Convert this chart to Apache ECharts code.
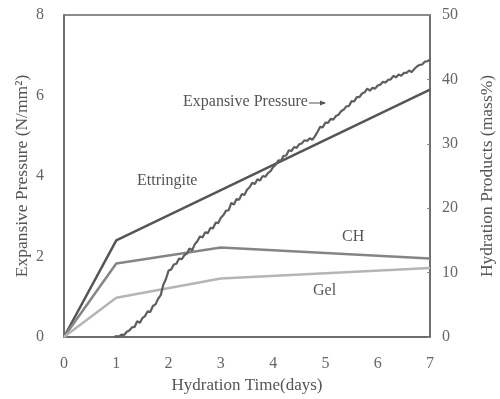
<!DOCTYPE html>
<html><head><meta charset="utf-8">
<script src="https://cdn.jsdelivr.net/npm/echarts@6/dist/echarts.min.js"></script>
<style>html,body{margin:0;padding:0;background:#fff}#c{width:500px;height:399px}</style>
</head><body><div id="c"></div>
<script>
var days = [0, 1, 3, 7];
var ettringite = [0, 15.0, 22.8, 38.4];
var ch = [0, 11.4, 13.9, 12.2];
var gel = [0, 6.1, 9.1, 10.7];
var pressureDays = [0.95,1.0,1.05,1.1,1.15,1.2,1.25,1.3,1.35,1.4,1.45,1.5,1.55,1.6,1.65,1.7,1.75,1.8,1.85,1.9,1.95,2.0,2.05,2.1,2.15,2.2,2.25,2.3,2.35,2.4,2.45,2.5,2.55,2.6,2.65,2.7,2.75,2.8,2.85,2.9,2.95,3.0,3.05,3.1,3.15,3.2,3.25,3.3,3.35,3.4,3.45,3.5,3.55,3.6,3.65,3.7,3.75,3.8,3.85,3.9,3.95,4.0,4.05,4.1,4.15,4.2,4.25,4.3,4.35,4.4,4.45,4.5,4.55,4.6,4.65,4.7,4.75,4.8,4.85,4.9,4.95,5.0,5.05,5.1,5.15,5.2,5.25,5.3,5.35,5.4,5.45,5.5,5.55,5.6,5.65,5.7,5.75,5.8,5.85,5.9,5.95,6.0,6.05,6.1,6.15,6.2,6.25,6.3,6.35,6.4,6.45,6.5,6.55,6.6,6.65,6.7,6.75,6.8,6.85,6.9,6.95,7.0];
var pressure = [0.00,0.02,0.01,0.06,0.05,0.13,0.16,0.24,0.25,0.39,0.35,0.47,0.52,0.64,0.62,0.77,0.81,0.95,1.04,1.30,1.44,1.65,1.68,1.80,1.82,1.95,1.93,2.03,2.07,2.20,2.15,2.30,2.38,2.50,2.47,2.60,2.58,2.71,2.70,2.84,2.83,2.96,3.03,3.14,3.15,3.33,3.29,3.43,3.41,3.55,3.53,3.66,3.72,3.83,3.80,3.92,3.89,4.00,3.98,4.07,4.12,4.22,4.28,4.39,4.38,4.50,4.51,4.64,4.62,4.72,4.70,4.79,4.81,4.89,4.87,4.94,4.90,4.99,5.10,5.22,5.21,5.33,5.32,5.42,5.40,5.49,5.52,5.61,5.65,5.73,5.74,5.86,5.85,5.96,5.96,6.05,6.08,6.17,6.12,6.19,6.17,6.25,6.27,6.34,6.32,6.39,6.40,6.49,6.45,6.52,6.49,6.56,6.56,6.62,6.58,6.66,6.72,6.76,6.77,6.84,6.85,6.89];
var xTicks = [0,1,2,3,4,5,6,7];

var font = 'Liberation Serif';
var txt = '#555';
var pData = pressureDays.map(function(d,i){return [d, pressure[i]];});
function pairs(arr){return days.map(function(d,i){return [d, arr[i]];});}

var chart = echarts.init(document.getElementById('c'), null, {renderer:'canvas'});
chart.setOption({
  animation:false,
  backgroundColor:'#fff',
  grid:{left:64,right:70,top:15,bottom:62,containLabel:false,outerBoundsMode:'none',show:true,borderColor:'#666',borderWidth:1.5,backgroundColor:'transparent'},
  xAxis:{type:'value',min:0,max:7,interval:1,
    name:'Hydration Time(days)',nameLocation:'middle',nameGap:40,
    nameTextStyle:{fontFamily:font,fontSize:17,color:txt},
    axisLine:{lineStyle:{color:'#666',width:1.5}},axisTick:{show:false},
    splitLine:{show:false},
    axisLabel:{fontFamily:font,fontSize:16,color:'#666',margin:19,formatter:function(v){return xTicks.indexOf(v)>=0?String(v):'';}}},
  yAxis:[
    {type:'value',min:0,max:8,interval:2,
     name:'Expansive Pressure (N/mm²)',nameLocation:'middle',nameGap:33,nameMoveOverlap:false,
     nameTextStyle:{fontFamily:font,fontSize:17.5,color:txt},
     axisLine:{show:true,lineStyle:{color:'#666',width:1.5}},axisTick:{show:false},
     splitLine:{show:false},
     axisLabel:{fontFamily:font,fontSize:16,color:'#666',margin:20}},
    {type:'value',min:0,max:50,interval:10,position:'right',
     name:'Hydration Products (mass%)',nameLocation:'middle',nameGap:48,nameRotate:90,
     nameTextStyle:{fontFamily:font,fontSize:17.5,color:txt},
     axisLine:{show:true,lineStyle:{color:'#666',width:1.5}},
     axisTick:{show:true,inside:true,length:3,lineStyle:{color:'#888'}},
     splitLine:{show:false},
     axisLabel:{fontFamily:font,fontSize:16,color:'#666',margin:12}}
  ],
  series:[
    {name:'Ettringite',type:'line',yAxisIndex:1,data:pairs(ettringite),symbol:'none',
     lineStyle:{color:'#555',width:2.5}},
    {name:'CH',type:'line',yAxisIndex:1,data:pairs(ch),symbol:'none',
     lineStyle:{color:'#858585',width:2.5}},
    {name:'Gel',type:'line',yAxisIndex:1,data:pairs(gel),symbol:'none',
     lineStyle:{color:'#b5b5b5',width:2.5}},
    {name:'Expansive Pressure',type:'line',yAxisIndex:0,data:pData,symbol:'none',
     lineStyle:{color:'#5e5e5e',width:2.2}}
  ],
  graphic:[
    {type:'text',left:183,top:94,style:{text:'Expansive Pressure',font:'16px "Liberation Serif"',fill:'#555'}},
    {type:'line',shape:{x1:309,y1:103,x2:325,y2:103},style:{stroke:'#555',lineWidth:1}},
    {type:'polygon',shape:{points:[[326,103],[320,100.5],[320,105.5]]},style:{fill:'#555'}},
    {type:'text',left:137,top:173,style:{text:'Ettringite',font:'16px "Liberation Serif"',fill:'#555'}},
    {type:'text',left:342,top:229,style:{text:'CH',font:'16px "Liberation Serif"',fill:'#555'}},
    {type:'text',left:313,top:283,style:{text:'Gel',font:'16px "Liberation Serif"',fill:'#555'}}
  ]
});
</script></body></html>
